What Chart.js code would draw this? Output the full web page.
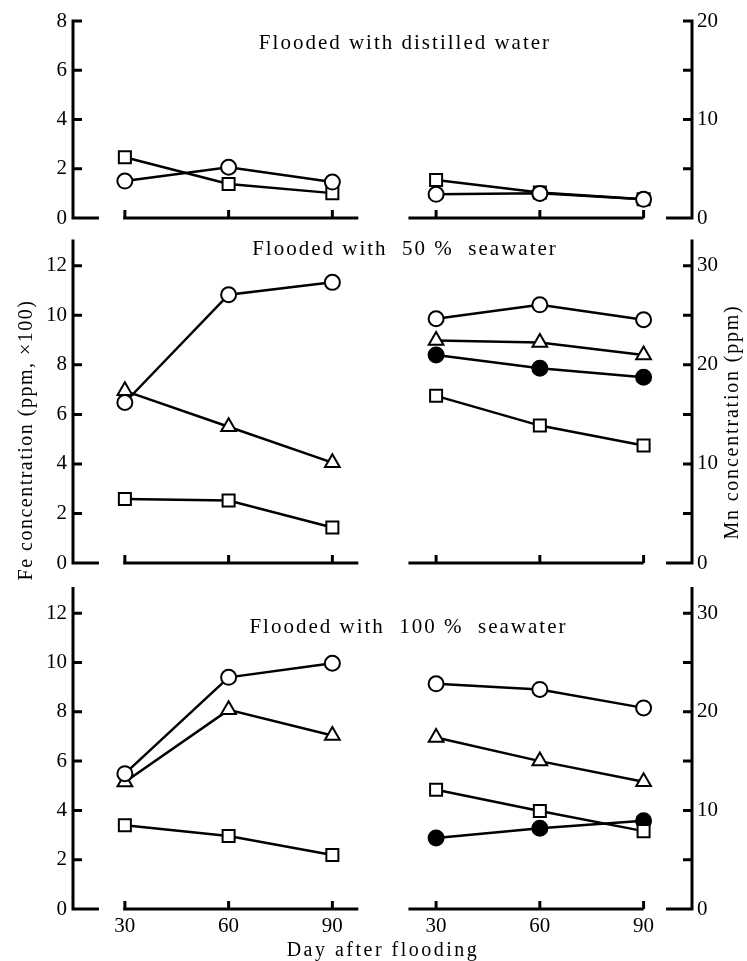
<!DOCTYPE html>
<html>
<head>
<meta charset="utf-8">
<script src="https://cdn.jsdelivr.net/npm/chart.js@4.4.1/dist/chart.umd.min.js"></script>
<style>
  body { margin: 0; background: #fff; }
  #fig { position: relative; width: 747px; height: 961px; }
  #fig canvas { position: absolute; left: 0; }
</style>
</head>
<body>
<div id="fig">
  <canvas id="panelDistilled" width="747" height="240" style="top:0px"></canvas>
  <canvas id="panel50" width="747" height="370" style="top:222px"></canvas>
  <canvas id="panel100" width="747" height="391" style="top:570px"></canvas>
</div>
<script>
// sampling days (same for Fe and Mn blocks)
const days = [30, 60, 90];
const dayLabels = ['30', '60', '90'];

// Flooded with distilled water
const distFeCircle = [1.50, 2.06, 1.46];
const distFeSquare = [2.47, 1.38, 1.01];
const distMnCircle = [2.4, 2.5, 1.9];
const distMnSquare = [3.85, 2.6, 1.9];

// Flooded with 50% seawater
const sea50FeCircle = [6.48, 10.83, 11.33];
const sea50FeTriangle = [6.95, 5.5, 4.05];
const sea50FeSquare = [2.58, 2.52, 1.43];
const sea50MnCircle = [24.65, 26.06, 24.55];
const sea50MnTriangle = [22.45, 22.25, 21.0];
const sea50MnDot = [21.0, 19.66, 18.75];
const sea50MnSquare = [16.87, 13.87, 11.85];

// Flooded with 100% seawater
const sea100FeCircle = [5.49, 9.4, 9.97];
const sea100FeTriangle = [5.15, 8.08, 7.04];
const sea100FeSquare = [3.4, 2.96, 2.19];
const sea100MnCircle = [22.84, 22.27, 20.4];
const sea100MnTriangle = [17.4, 15.0, 12.9];
const sea100MnSquare = [12.1, 9.95, 7.9];
const sea100MnDot = [7.2, 8.2, 8.94];

// the Mn block is drawn to the right of the Fe block on one shared x scale
const mnShift = 90;
const serif = "'Liberation Serif', 'DejaVu Serif', serif";

const markers = {
  circle:   { pointStyle: 'circle',   pointRadius: 7.5, pointBackgroundColor: '#fff' },
  square:   { pointStyle: 'rect',     pointRadius: 8.5, pointBackgroundColor: '#fff' },
  triangle: { pointStyle: 'triangle', pointRadius: 8.5, pointBackgroundColor: '#fff' },
  dot:      { pointStyle: 'circle',   pointRadius: 7.5, pointBackgroundColor: '#000' }
};

function series(values, axis, mark) {
  const shift = axis === 'yMn' ? mnShift : 0;
  return Object.assign({
    yAxisID: axis,
    data: days.map((d, i) => ({ x: d + shift, y: values[i] })),
    borderColor: '#000',
    borderWidth: 2.5,
    pointBorderColor: '#000',
    pointBorderWidth: 2,
    clip: false
  }, markers[mark]);
}

function spacedText(ctx, text, x, y, font, spacing, angle) {
  ctx.save();
  ctx.translate(x, y);
  if (angle) ctx.rotate(angle);
  ctx.font = font;
  ctx.letterSpacing = spacing + 'px';
  ctx.fillStyle = '#000';
  ctx.textAlign = 'center';
  ctx.textBaseline = 'middle';
  ctx.fillText(text, 0, 0);
  ctx.restore();
}

// axis lines, inward ticks, broken baseline and in-panel labels
const frame = {
  id: 'frame',
  beforeDatasetsDraw(chart, args, o) {
    const { ctx, chartArea: a, scales } = chart;
    const { x, yFe, yMn } = scales;
    ctx.save();
    ctx.strokeStyle = '#000';
    ctx.lineWidth = 3;
    ctx.beginPath();
    ctx.moveTo(a.left, a.top - 1.5); ctx.lineTo(a.left, a.bottom + 1.5);
    ctx.moveTo(a.right, a.top - 1.5); ctx.lineTo(a.right, a.bottom + 1.5);
    yFe.ticks.forEach(t => {
      const py = yFe.getPixelForValue(t.value);
      ctx.moveTo(a.left, py); ctx.lineTo(a.left + 9, py);
    });
    yMn.ticks.forEach(t => {
      const py = yMn.getPixelForValue(t.value);
      ctx.moveTo(a.right - 9, py); ctx.lineTo(a.right, py);
    });
    o.baseline.forEach(([d0, d1]) => {
      ctx.moveTo(x.getPixelForValue(d0), a.bottom);
      ctx.lineTo(x.getPixelForValue(d1), a.bottom);
    });
    days.concat(days.map(d => d + mnShift)).forEach(d => {
      const px = x.getPixelForValue(d);
      ctx.moveTo(px, a.bottom); ctx.lineTo(px, a.bottom - 8);
    });
    ctx.stroke();
    ctx.restore();

    spacedText(ctx, o.title, x.getPixelForValue(o.titleAt[0]), yFe.getPixelForValue(o.titleAt[1]),
      '21px ' + serif, 2);
    (o.extra || []).forEach(t => spacedText(ctx, t.text, t.x, t.y, t.font, t.spacing, t.angle));
  }
};

const baseline = [[15, 22.5], [29.5, 97.5], [112, 180], [186.5, 194]];

function panel(id, cfg) {
  const tickFont = { family: serif, size: 21 };
  new Chart(document.getElementById(id), {
    type: 'line',
    data: { datasets: cfg.datasets },
    options: {
      responsive: false,
      animation: false,
      layout: { padding: { top: cfg.padTop, bottom: cfg.padBottom, left: 0, right: 0 } },
      plugins: {
        legend: { display: false },
        tooltip: { enabled: false },
        frame: { title: cfg.title, titleAt: cfg.titleAt, baseline: baseline, extra: cfg.extra }
      },
      scales: {
        x: {
          type: 'linear', min: 15, max: 194,
          display: cfg.showX,
          afterBuildTicks: s => { s.ticks = days.concat(days.map(d => d + mnShift)).map(v => ({ value: v })); },
          afterFit: s => { s.height = cfg.showX ? 52 : 0; },
          ticks: {
            color: '#000', font: tickFont, padding: 5, maxRotation: 0, autoSkip: false,
            callback: v => dayLabels[days.indexOf(v > 90 ? v - mnShift : v)]
          },
          grid: { display: false, drawTicks: false },
          border: { display: false }
        },
        yFe: {
          position: 'left', min: 0, max: cfg.feMax,
          afterFit: s => { s.width = 73; },
          ticks: { stepSize: 2, includeBounds: false, color: '#000', font: tickFont, padding: 6 },
          grid: { display: false, drawTicks: false },
          border: { display: false }
        },
        yMn: {
          position: 'right', min: 0, max: cfg.feMax * 2.5,
          afterFit: s => { s.width = 55; },
          ticks: {
            stepSize: 5, includeBounds: false, color: '#000', font: tickFont, padding: 5,
            callback: v => (v % 10 === 0 ? v : '')
          },
          grid: { display: false, drawTicks: false },
          border: { display: false }
        }
      }
    },
    plugins: [frame]
  });
}

panel('panelDistilled', {
  title: 'Flooded with distilled water', titleAt: [111, 7.1],
  feMax: 8, padTop: 21, padBottom: 22, showX: false,
  datasets: [
    series(distFeCircle, 'yFe', 'circle'),
    series(distFeSquare, 'yFe', 'square'),
    series(distMnCircle, 'yMn', 'circle'),
    series(distMnSquare, 'yMn', 'square')
  ]
});

panel('panel50', {
  title: 'Flooded with  50 %  seawater', titleAt: [111, 12.64],
  feMax: 13, padTop: 19, padBottom: 29, showX: false,
  extra: [
    { text: 'Fe concentration (ppm, ×100)', x: 27, y: 218, font: '20px ' + serif, spacing: 1.5, angle: -Math.PI / 2 },
    { text: 'Mn concentration (ppm)', x: 733, y: 200, font: '20px ' + serif, spacing: 1.8, angle: -Math.PI / 2 }
  ],
  datasets: [
    series(sea50FeCircle, 'yFe', 'circle'),
    series(sea50FeTriangle, 'yFe', 'triangle'),
    series(sea50FeSquare, 'yFe', 'square'),
    series(sea50MnCircle, 'yMn', 'circle'),
    series(sea50MnTriangle, 'yMn', 'triangle'),
    series(sea50MnDot, 'yMn', 'dot'),
    series(sea50MnSquare, 'yMn', 'square')
  ]
});

panel('panel100', {
  title: 'Flooded with  100 %  seawater', titleAt: [112, 11.42],
  feMax: 13, padTop: 18, padBottom: 0, showX: true,
  extra: [
    { text: 'Day after flooding', x: 383, y: 381, font: '20px ' + serif, spacing: 2.5 }
  ],
  datasets: [
    series(sea100FeCircle, 'yFe', 'circle'),
    series(sea100FeTriangle, 'yFe', 'triangle'),
    series(sea100FeSquare, 'yFe', 'square'),
    series(sea100MnCircle, 'yMn', 'circle'),
    series(sea100MnTriangle, 'yMn', 'triangle'),
    series(sea100MnSquare, 'yMn', 'square'),
    series(sea100MnDot, 'yMn', 'dot')
  ]
});
</script>
</body>
</html>
